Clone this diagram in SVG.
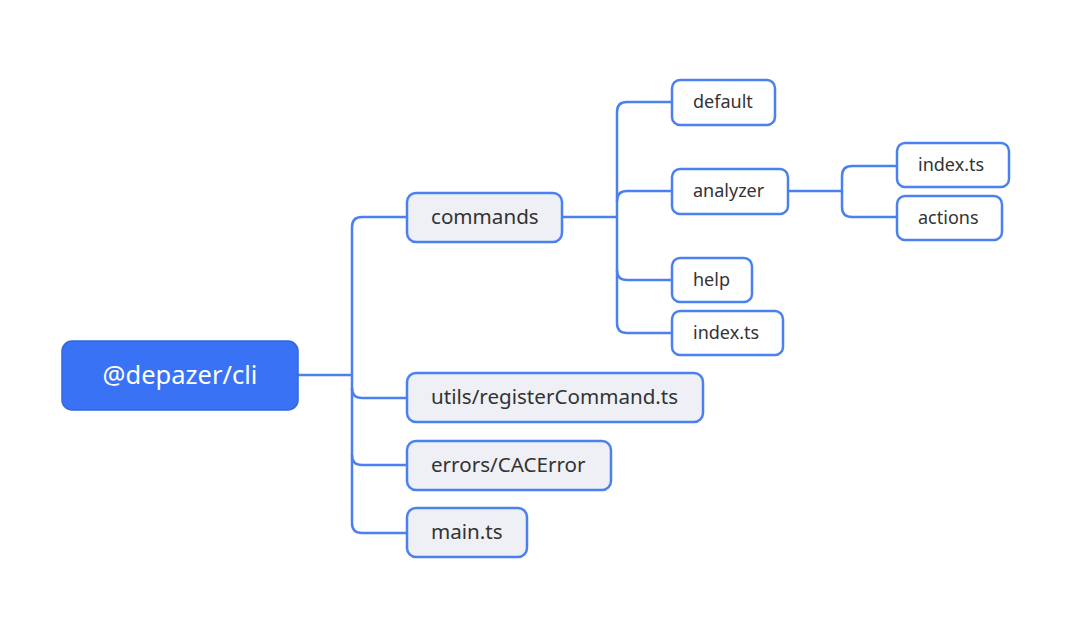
<svg xmlns="http://www.w3.org/2000/svg" width="1065" height="626" viewBox="0 0 1065 626">
<style>
.c{fill:none;stroke:#4a80f0;stroke-width:2.5;stroke-linejoin:round}
.n1 rect{fill:#eef0f5;stroke:#4a80f0;stroke-width:2.5}
.n2 rect{fill:#ffffff;stroke:#4a80f0;stroke-width:2.5}
.t{font-family:"Noto Sans","Open Sans",sans-serif;fill:#333333}
.n1 text{font-size:20.6px}
.n2 text{font-size:18px}
</style>
<rect width="1065" height="626" fill="#ffffff"/>
<g id="connectors">
<path class="c" d="M298 375 H352"/>
<path class="c" d="M407 217 H362 Q352 217 352 227 V523 Q352 533 362 533 H407"/>
<path class="c" d="M352 388 Q352 398 362 398 H407"/>
<path class="c" d="M352 455 Q352 465 362 465 H407"/>
<path class="c" d="M562 217 H617"/>
<path class="c" d="M672 102 H627 Q617 102 617 112 V323 Q617 333 627 333 H672"/>
<path class="c" d="M672 191 H627 Q617 191 617 201"/>
<path class="c" d="M617 270 Q617 280 627 280 H672"/>
<path class="c" d="M788 191 H842"/>
<path class="c" d="M897 166 H852 Q842 166 842 176 V207 Q842 217 852 217 H897"/>
</g>
<g id="root">
<rect x="62" y="341" width="236" height="69" rx="10" fill="#3a72f5" stroke="#3366e0" stroke-width="1.5"/>
<text x="180" y="384" text-anchor="middle" font-family="Noto Sans,Open Sans,sans-serif" font-size="25.5" fill="#ffffff">@depazer/cli</text>
</g>
<g id="commands" class="n1">
<rect x="407" y="193" width="155" height="49" rx="9"/>
<text class="t" x="431" y="224">commands</text>
</g>
<g id="utils" class="n1">
<rect x="407" y="373" width="296" height="49" rx="9"/>
<text class="t" x="431" y="404">utils/registerCommand.ts</text>
</g>
<g id="errors" class="n1">
<rect x="407" y="441" width="204" height="49" rx="9"/>
<text class="t" x="431" y="472">errors/CACError</text>
</g>
<g id="main" class="n1">
<rect x="407" y="508" width="120" height="49" rx="9"/>
<text class="t" x="431" y="539">main.ts</text>
</g>
<g id="default" class="n2">
<rect x="672" y="80" width="103" height="45" rx="8"/>
<text class="t" x="693" y="108">default</text>
</g>
<g id="analyzer" class="n2">
<rect x="672" y="169" width="116" height="45" rx="8"/>
<text class="t" x="693" y="197">analyzer</text>
</g>
<g id="help" class="n2">
<rect x="672" y="258" width="80" height="44" rx="8"/>
<text class="t" x="693" y="286">help</text>
</g>
<g id="cmd-index" class="n2">
<rect x="672" y="311" width="111" height="44" rx="8"/>
<text class="t" x="693" y="339">index.ts</text>
</g>
<g id="an-index" class="n2">
<rect x="897" y="143" width="112" height="44" rx="8"/>
<text class="t" x="918" y="171">index.ts</text>
</g>
<g id="actions" class="n2">
<rect x="897" y="196" width="105" height="44" rx="8"/>
<text class="t" x="918" y="224">actions</text>
</g>
</svg>
